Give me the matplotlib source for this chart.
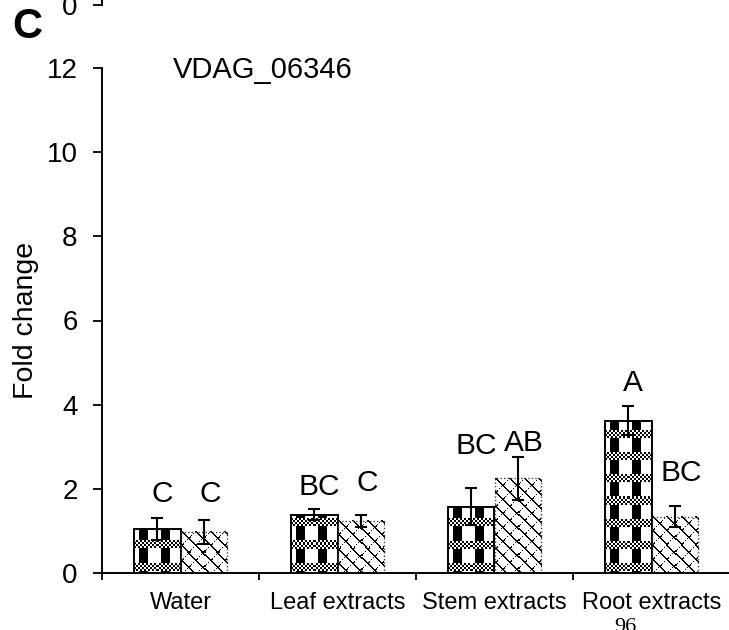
import matplotlib
matplotlib.use("Agg")
import matplotlib.pyplot as plt
import numpy as np

plt.rcParams['font.family'] = ['Liberation Sans', 'DejaVu Sans']

# data
categories = ["Water", "Leaf extracts", "Stem extracts", "Root extracts"]
series1 = [1.05, 1.38, 1.58, 3.62]
series1_err = [0.26, 0.13, 0.45, 0.35]
series2 = [0.98, 1.24, 2.25, 1.34]
series2_err = [0.28, 0.15, 0.51, 0.25]
letters1 = ["C", "BC", "BC", "A"]
letters2 = ["C", "C", "AB", "BC"]
letters1_y = [1.88, 2.04, 3.02, 4.52]
letters2_y = [1.88, 2.14, 3.09, 2.38]
gene = "VDAG_06346"


def plaid(wp, hp):
    yy, xx = np.mgrid[0:hp, 0:wp]
    yb = hp - 1 - yy
    img = np.ones((hp, wp))
    band = ((yb - 2) % 22) < 8
    checker = ((xx // 2 + yb // 2) % 2) == 0
    col = ((xx - 5) % 21) < 9
    img[~band & col] = 0
    img[band & checker] = 0
    return img


def diag(wp, hp):
    yy, xx = np.mgrid[0:hp, 0:wp]
    img = np.ones((hp, wp))
    d = (xx - yy) % 14
    s = (xx + yy) % 14
    img[d < 2] = 0
    img[(s == 0) & (xx % 2 == 0)] = 0
    img[(s <= 1) & (d < 5)] = 0
    return img


def fill_bar(ax, x0, x1, h, maker):
    p0 = ax.transData.transform((x0, 0))
    p1 = ax.transData.transform((x1, h))
    wp = max(int(round(p1[0] - p0[0])), 1)
    hp = max(int(round(p1[1] - p0[1])), 1)
    ax.imshow(maker(wp, hp), cmap='gray', vmin=0, vmax=1, extent=(x0, x1, 0, h),
              origin='upper', interpolation='nearest', aspect='auto', zorder=1)


fig = plt.figure(figsize=(7.29, 6.3), dpi=100)
ax = fig.add_axes([102 / 729, 57 / 630, 628 / 729, 505 / 630])
ax.set_xlim(-0.5, 3.5)
ax.set_ylim(0, 12)

x = np.arange(len(categories))
w = 0.293
for i in range(len(categories)):
    fill_bar(ax, x[i] - w, x[i], series1[i], plaid)
    fill_bar(ax, x[i], x[i] + w, series2[i], diag)
ax.set_xlim(-0.5, 3.5)
ax.set_ylim(0, 12)

ax.bar(x - w / 2, series1, w, facecolor='none', edgecolor='black', linewidth=1.4, zorder=2)
ax.bar(x + w / 2, series2, w, facecolor='none', edgecolor='#444444', linewidth=1.0,
       linestyle=(0, (1, 1.5)), zorder=2)
ax.errorbar(x - w / 2, series1, yerr=series1_err, fmt='none', ecolor='black',
            elinewidth=1.5, capsize=4, capthick=1.5, zorder=3)
ax.errorbar(x + w / 2, series2, yerr=series2_err, fmt='none', ecolor='black',
            elinewidth=1.5, capsize=4, capthick=1.5, zorder=3)

for i in range(len(categories)):
    ax.text(x[i] - w / 2 + 0.03, letters1_y[i], letters1[i], ha='center', va='center', fontsize=21.5)
    ax.text(x[i] + w / 2 + 0.04, letters2_y[i], letters2[i], ha='center', va='center', fontsize=21.5)

ax.text(-0.05, 11.95, gene, ha='left', va='center', fontsize=21)

ax.spines['top'].set_visible(False)
ax.spines['right'].set_visible(False)
ax.spines['left'].set_linewidth(1.4)
ax.spines['bottom'].set_linewidth(1.4)

ax.set_yticks([0, 2, 4, 6, 8, 10, 12])
ax.tick_params(axis='y', direction='out', length=6.5, width=1.3, labelsize=20, pad=11)
ax.set_xticks(x)
ax.set_xticklabels(categories)
ax.tick_params(axis='x', which='major', length=0, labelsize=17, pad=14)
ax.set_xticks([-0.5, 0.5, 1.5, 2.5, 3.5], minor=True)
ax.tick_params(axis='x', which='minor', direction='out', length=5, width=1.3)

ax.set_ylabel("Fold change", fontsize=20.5)
ax.yaxis.set_label_coords(-0.100, 0.5)

# bottom of the panel above
ax0 = fig.add_axes([102 / 729, 625 / 630, 628 / 729, 0.5])
ax0.set_ylim(0, 12)
ax0.set_xticks([])
ax0.set_yticks([0])
ax0.tick_params(axis='y', direction='out', length=6.5, width=1.3, labelsize=20, pad=11)
for s in ['top', 'right', 'bottom']:
    ax0.spines[s].set_visible(False)
ax0.spines['left'].set_linewidth(1.4)
ax0.patch.set_visible(False)

fig.text(12 / 729, 603 / 630, "C", ha='left', va='center', fontsize=30, fontweight='bold')
fig.text(625 / 729, 12 / 630, "96", ha='center', va='top', fontsize=16, family='Liberation Serif')

fig.savefig("out.png", dpi=100)
